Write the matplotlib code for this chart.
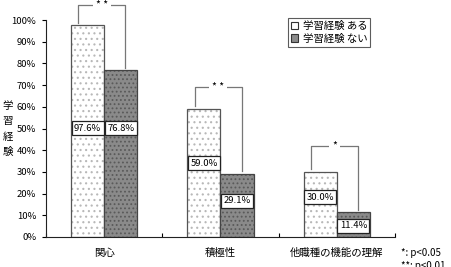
import matplotlib
matplotlib.use("Agg")
import matplotlib.pyplot as plt
import numpy as np

plt.rcParams['font.family'] = ['Noto Sans CJK JP', 'DejaVu Sans']
plt.rcParams['hatch.linewidth'] = 0.8

categories = ["関心", "積極性", "他職種の機能の理解"]
series_names = ["学習経験 ある", "学習経験 ない"]
values_yes = [97.6, 59.0, 30.0]
values_no = [76.8, 29.1, 11.4]
value_labels_yes = ["97.6%", "59.0%", "30.0%"]
value_labels_no = ["76.8%", "29.1%", "11.4%"]
label_pos_yes = [50.2, 34.1, 18.4]
label_pos_no = [50.2, 16.6, 5.1]
sig_marks = ["* *", "* *", "*"]
sig_heights = [107, 69, 42]
yticks = list(range(0, 101, 10))
ytick_labels = [f"{t}%" for t in yticks]
ylabel = "学習経験"
footnotes = ["*: p<0.05", "**: p<0.01"]

fig = plt.figure(figsize=(4.51, 2.67), dpi=100)
ax = fig.add_axes([46/451, 1-237/267, (395-46)/451, (237-20)/267])

x = np.arange(len(categories))
w = 0.285

def layered_bar(xpos, vals, face, hatch, hcolor, ecolor, label):
    ax.bar(xpos, vals, w, color=face, linewidth=0, label=label, zorder=2)
    ax.bar(xpos, vals, w, color='none', edgecolor=hcolor, hatch=hatch, linewidth=0, zorder=2)
    ax.bar(xpos, vals, w, color='none', edgecolor=ecolor, linewidth=0.9, zorder=2)

layered_bar(x - w/2, values_yes, 'white', '...', '#b8b8b8', '#555555', series_names[0])
layered_bar(x + w/2, values_no, '#8a8a8a', '....', '#5a5a5a', '#444444', series_names[1])

box = dict(boxstyle='square,pad=0.25', fc='white', ec='#222222', lw=0.9)
for i in range(len(categories)):
    ax.text(x[i] - w/2, label_pos_yes[i], value_labels_yes[i], ha='center', va='center',
            fontsize=6.8, bbox=box, zorder=5)
    ax.text(x[i] + w/2, label_pos_no[i], value_labels_no[i], ha='center', va='center',
            fontsize=6.8, bbox=box, zorder=5)

# significance brackets
for i in range(len(categories)):
    xl = x[i] - w/2 - 0.08
    xr = x[i] + w/2 + 0.04
    top = sig_heights[i]
    ax.plot([xl, xl, xr, xr], [values_yes[i] + 1.2, top, top, values_no[i] + 1.2],
            color='#777777', lw=0.9, clip_on=False, zorder=3)
    ax.text((xl + xr) / 2, top, sig_marks[i], ha='center', va='center', fontsize=7.5,
            bbox=dict(boxstyle='square,pad=0.3', fc='white', ec='none'), zorder=4,
            clip_on=False)

ax.set_xlim(-0.5, len(categories) - 0.5)
ax.set_ylim(0, 100)
ax.set_yticks(yticks)
ax.set_yticklabels(ytick_labels, fontsize=6.8)
ax.set_xticks(x)
ax.set_xticklabels(categories, fontsize=7.5)
ax.tick_params(axis='x', length=0, pad=8)
ax.set_xticks(np.arange(len(categories) + 1) - 0.5, minor=True)
ax.tick_params(axis='x', which='minor', direction='in', length=3, width=0.8)
ax.tick_params(axis='y', direction='out', length=3, width=0.8, pad=4)
for s in ['top', 'right']:
    ax.spines[s].set_visible(False)
for s in ['left', 'bottom']:
    ax.spines[s].set_linewidth(0.8)
    ax.spines[s].set_color('#222222')

# vertical stacked y label
for k, ch in enumerate(ylabel):
    fig.text(8/451, 1-(106 + 15.3*k)/267, ch, ha='center', va='center', fontsize=7.5)

leg = ax.legend(loc='upper left', bbox_to_anchor=((288-46)/349, (237-18)/217),
                fontsize=7.5, frameon=True, fancybox=False, edgecolor='#333333',
                handlelength=0.7, handleheight=0.7, handletextpad=0.4,
                borderpad=0.3, labelspacing=0.25, borderaxespad=0)
leg.get_frame().set_linewidth(0.8)
for h in leg.legend_handles:
    h.set_edgecolor('#333333')
    h.set_linewidth(0.8)

fig.text(401/451, 1-253/267, footnotes[0], ha='left', va='center', fontsize=7)
fig.text(401/451, 1-266/267, footnotes[1], ha='left', va='center', fontsize=7)

fig.savefig("out.png", dpi=100)
